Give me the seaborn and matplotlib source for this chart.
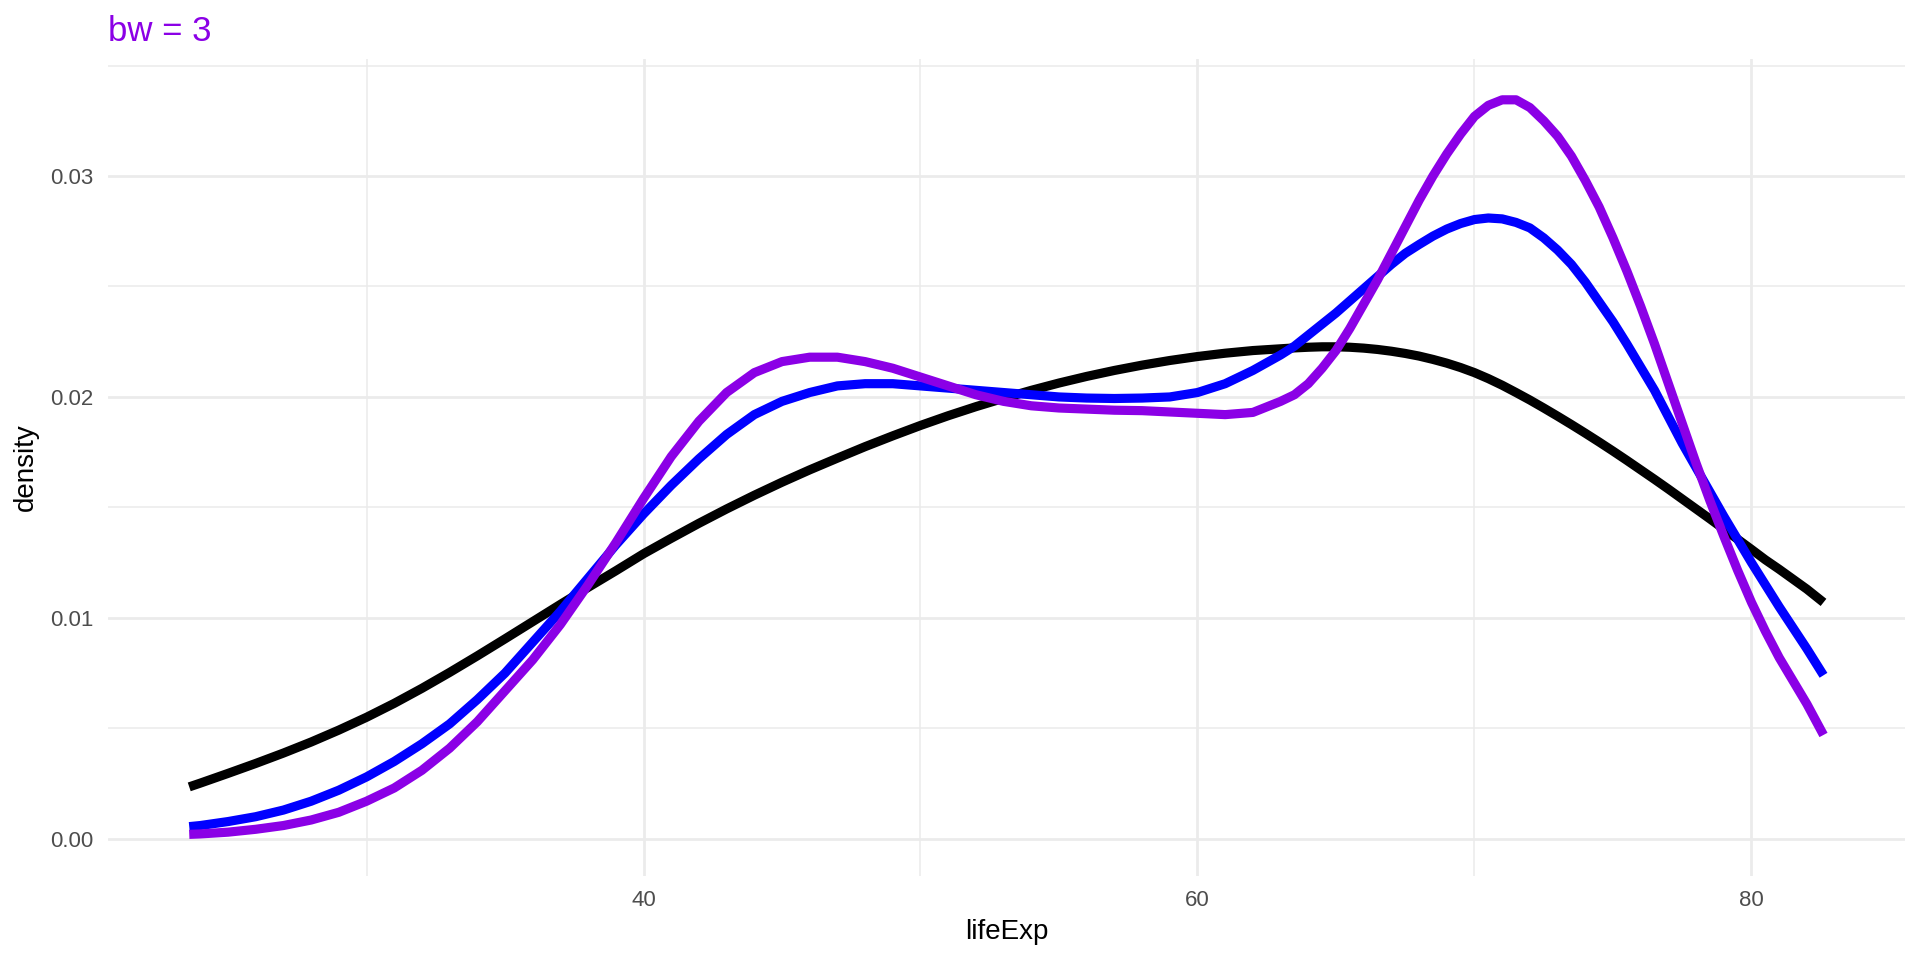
import pandas as pd
import seaborn as sns
import matplotlib.pyplot as plt
from matplotlib.ticker import FixedLocator

# values (density curves of lifeExp)
life_exp = [23.6, 24, 25, 26, 27, 28, 29, 30, 31, 32, 33, 34, 35, 36, 37, 38, 39, 40,
            41, 42, 43, 44, 45, 46, 47, 48, 49, 50, 51, 52, 53, 54, 55, 56, 57, 58,
            59, 60, 61, 62,
            63, 63.5, 64, 64.5, 65, 65.5, 66, 66.5, 67, 67.5, 68, 68.5, 69, 69.5,
            70, 70.5, 71, 71.5, 72, 72.5, 73, 73.5, 74, 74.5, 75, 75.5, 76, 76.5,
            77, 77.5, 78, 78.5, 79, 79.5, 80, 80.5,
            81, 82, 82.6]

dens_black = [0.00235, 0.00252, 0.00296, 0.00341, 0.00388, 0.00438, 0.00492, 0.0055,
              0.00613, 0.00681, 0.00753, 0.00828, 0.00905, 0.00983, 0.01061, 0.01138,
              0.01213, 0.0129,
              0.0136, 0.01428, 0.01493, 0.01555, 0.01614, 0.0167, 0.01723, 0.01775,
              0.01824, 0.01871, 0.01915, 0.01956, 0.01994, 0.0203, 0.02063, 0.02093,
              0.0212, 0.02144, 0.02165, 0.02183, 0.02198, 0.0221,
              0.02218, 0.02222, 0.02225, 0.02227, 0.02227, 0.02225, 0.02221, 0.02215,
              0.02207, 0.02197, 0.02185, 0.0217, 0.02153, 0.02133, 0.0211, 0.02083,
              0.02053, 0.0202, 0.01986, 0.0195, 0.01913, 0.01875, 0.01836, 0.01796,
              0.01755, 0.01713, 0.0167, 0.01627, 0.01583, 0.01538, 0.01493, 0.01448,
              0.01402, 0.01356, 0.0131, 0.01263,
              0.0122, 0.0113, 0.0107]

dens_blue = [0.00055, 0.0006, 0.00078, 0.001, 0.0013, 0.0017, 0.0022, 0.0028, 0.0035,
             0.0043, 0.0052, 0.0063, 0.0075, 0.0089, 0.0103, 0.0118, 0.0133, 0.0147,
             0.0160, 0.0172, 0.0183, 0.0192, 0.0198, 0.0202, 0.0205, 0.0206, 0.0206,
             0.0205, 0.0204, 0.0203, 0.0202, 0.0201, 0.0200, 0.01995, 0.01993, 0.01995,
             0.0200, 0.0202, 0.0206, 0.0212,
             0.0219, 0.0223, 0.0228, 0.0233, 0.0238, 0.02435, 0.0249, 0.02545, 0.0260,
             0.0265, 0.0269, 0.02728, 0.0276, 0.02785, 0.02803, 0.0281, 0.02806, 0.0279,
             0.02765, 0.0272, 0.02665, 0.0260, 0.0252, 0.0243, 0.0234, 0.0224, 0.02135,
             0.0203, 0.0191, 0.0179, 0.0168, 0.0157, 0.0146, 0.01355, 0.0125, 0.0115,
             0.0105, 0.0086, 0.0074]

dens_purple = [0.0002, 0.00022, 0.0003, 0.00043, 0.0006, 0.00085, 0.0012, 0.0017, 0.0023,
               0.0031, 0.0041, 0.0053, 0.0067, 0.0081, 0.0097, 0.0115, 0.0134, 0.0154,
               0.0173, 0.0189, 0.0202, 0.0211, 0.0216, 0.0218, 0.0218, 0.0216, 0.0213,
               0.0209, 0.0205, 0.0201, 0.0198, 0.0196, 0.0195, 0.01945, 0.0194, 0.01938,
               0.01932, 0.01926, 0.0192, 0.0193,
               0.0198, 0.0201, 0.0206, 0.0213, 0.0221, 0.0231, 0.0242, 0.0253, 0.0265,
               0.0277, 0.0289, 0.0300, 0.0310, 0.0319, 0.0327, 0.0332, 0.03345, 0.03345,
               0.0331, 0.0325, 0.0318, 0.0309, 0.0298, 0.0286, 0.0272, 0.0257, 0.0241,
               0.0224, 0.0206, 0.0188, 0.0170, 0.0153, 0.0137, 0.01215, 0.0107, 0.0094,
               0.0082, 0.0061, 0.0047]

curve_colors = {"black": "black", "blue": "#0000FF", "purple": "#8B00E6"}

df = pd.DataFrame({"lifeExp": life_exp, "black": dens_black,
                   "blue": dens_blue, "purple": dens_purple})
long_df = df.melt(id_vars="lifeExp", var_name="curve", value_name="density")

sns.set_theme(style="white")
plt.rcParams['font.family'] = ['Liberation Sans', 'DejaVu Sans']

fig = plt.figure(figsize=(19.2, 9.6), dpi=100)
ax = fig.add_axes([0.056, 0.0876, 0.9363, 0.851])

sns.lineplot(data=long_df, x="lifeExp", y="density", hue="curve",
             hue_order=["black", "blue", "purple"], palette=curve_colors,
             linewidth=6.6, legend=False, estimator=None, sort=False,
             solid_capstyle="butt", solid_joinstyle="round", ax=ax)

ax.set_xlim(20.65, 85.55)
ax.set_ylim(-0.00168, 0.0353)

ax.xaxis.set_major_locator(FixedLocator([40, 60, 80]))
ax.xaxis.set_minor_locator(FixedLocator([30, 50, 70]))
ax.yaxis.set_major_locator(FixedLocator([0, 0.01, 0.02, 0.03]))
ax.yaxis.set_minor_locator(FixedLocator([0.005, 0.015, 0.025, 0.035]))
ax.set_yticklabels(["0.00", "0.01", "0.02", "0.03"])
ax.set_xticklabels(["40", "60", "80"])

ax.grid(which="major", color="#EBEBEB", linewidth=2.0)
ax.grid(which="minor", color="#EBEBEB", linewidth=1.1)
ax.set_axisbelow(True)
for s in ax.spines.values():
    s.set_visible(False)

ax.tick_params(which="both", length=0, labelsize=16, labelcolor="#4D4D4D")
ax.tick_params(axis="y", pad=10)
ax.tick_params(axis="x", pad=10)

ax.set_xlabel("lifeExp", fontsize=20, color="black", labelpad=6)
ax.set_ylabel("density", fontsize=20, color="black", labelpad=8)
ax.set_title("bw = 3", loc="left", fontsize=25, color="#8B00E6", pad=13)

fig.savefig("out.png", dpi=100)
